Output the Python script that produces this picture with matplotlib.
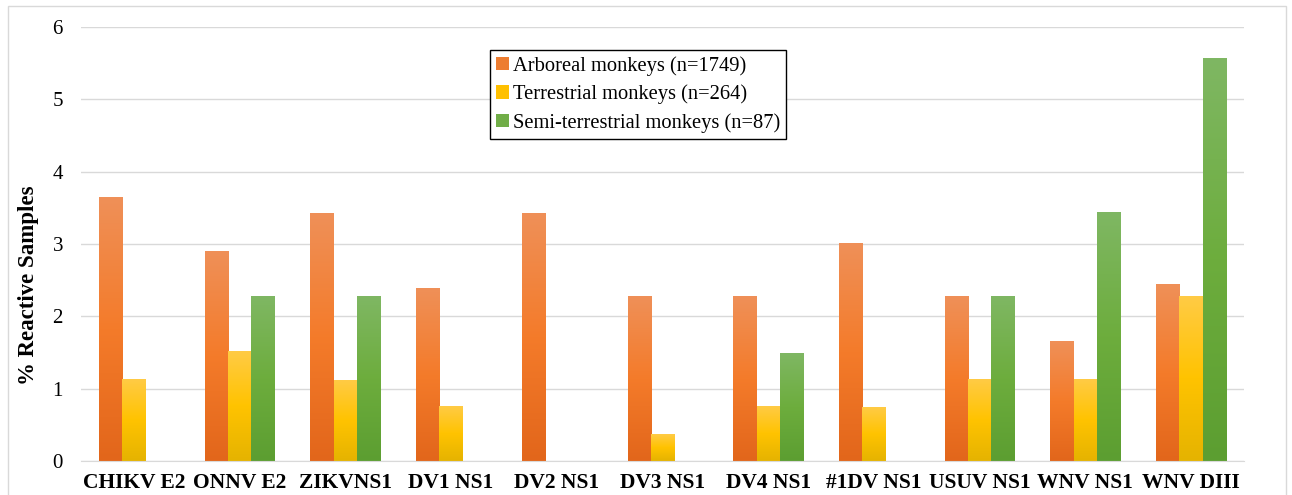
import numpy as np
import matplotlib
matplotlib.use('Agg')
import matplotlib.pyplot as plt
from matplotlib.colors import LinearSegmentedColormap
from matplotlib.patches import Patch, Rectangle

plt.rcParams['font.family'] = 'Liberation Serif'

# Data
categories = ['CHIKV E2', 'ONNV E2', 'ZIKVNS1', 'DV1 NS1', 'DV2 NS1', 'DV3 NS1',
              'DV4 NS1', '#1DV NS1', 'USUV NS1', 'WNV NS1', 'WNV DIII']
arboreal = [3.64, 2.90, 3.42, 2.39, 3.42, 2.27, 2.27, 3.00, 2.27, 1.65, 2.44]
terrestrial = [1.12, 1.51, 1.11, 0.75, 0.0, 0.37, 0.75, 0.74, 1.13, 1.13, 2.27]
semi_terrestrial = [0.0, 2.28, 2.28, 0.0, 0.0, 0.0, 1.48, 0.0, 2.28, 3.44, 5.57]

series = [
    ('Arboreal monkeys (n=1749)', arboreal, ['#E2661B', '#F47B2A', '#EF9058'], '#ED7D31'),
    ('Terrestrial monkeys (n=264)', terrestrial, ['#E5B300', '#FFC300', '#FFCB45'], '#FFC000'),
    ('Semi-terrestrial monkeys (n=87)', semi_terrestrial, ['#5C9E31', '#6DAD3D', '#7FB763'], '#70AD47'),
]

fig = plt.figure(figsize=(12.92, 4.95), dpi=100)
ax = fig.add_axes([0.0627, 0.0687, 0.9001, 0.8768])

x = np.arange(len(categories))
width = 0.22
grad = np.linspace(0, 1, 256).reshape(-1, 1)

handles = []
for i, (label, vals, stops, solid) in enumerate(series):
    cmap = LinearSegmentedColormap.from_list(label, stops)
    bars = ax.bar(x + (i - 1) * width, vals, width, color='none', edgecolor='none')
    # vertical gradient fill on each bar
    for b in bars:
        h = b.get_height()
        if h <= 0:
            continue
        ax.imshow(grad, cmap=cmap, origin='lower', aspect='auto', zorder=2,
                  extent=[b.get_x(), b.get_x() + b.get_width(), 0, h])
    handles.append(Patch(facecolor=solid, label=label))

ax.set_xlim(-0.5, len(categories) - 0.5)
ax.set_ylim(0, 6)
ax.set_yticks(range(0, 7))
ax.yaxis.grid(True, color='#D9D9D9', linewidth=1)
ax.set_axisbelow(True)
for s in ['top', 'right', 'left']:
    ax.spines[s].set_visible(False)
ax.spines['bottom'].set_color('#D9D9D9')
ax.tick_params(length=0)
ax.tick_params(axis='y', labelsize=15, pad=13)
ax.set_xticks(x)
ax.set_xticklabels(categories, fontsize=15.5, fontweight='bold')
ax.tick_params(axis='x', pad=9)
ax.set_ylabel('% Reactive Samples', fontsize=16.5, fontweight='bold')
ax.yaxis.set_label_coords(-0.036, 0.405)

leg = ax.legend(handles=handles, loc='upper left', bbox_to_anchor=(0.3517, 0.947),
                fontsize=14.8, fancybox=False, edgecolor='black', framealpha=1,
                handlelength=0.6, handleheight=0.6, handletextpad=0.2,
                labelspacing=0.42, borderpad=0.3, borderaxespad=0)
leg.get_frame().set_linewidth(1)

fig.patches.append(Rectangle((0.006, -0.1), 0.989, 1.087, transform=fig.transFigure,
                             fill=False, edgecolor='#D9D9D9', linewidth=1))

fig.savefig('out.png', dpi=100)
